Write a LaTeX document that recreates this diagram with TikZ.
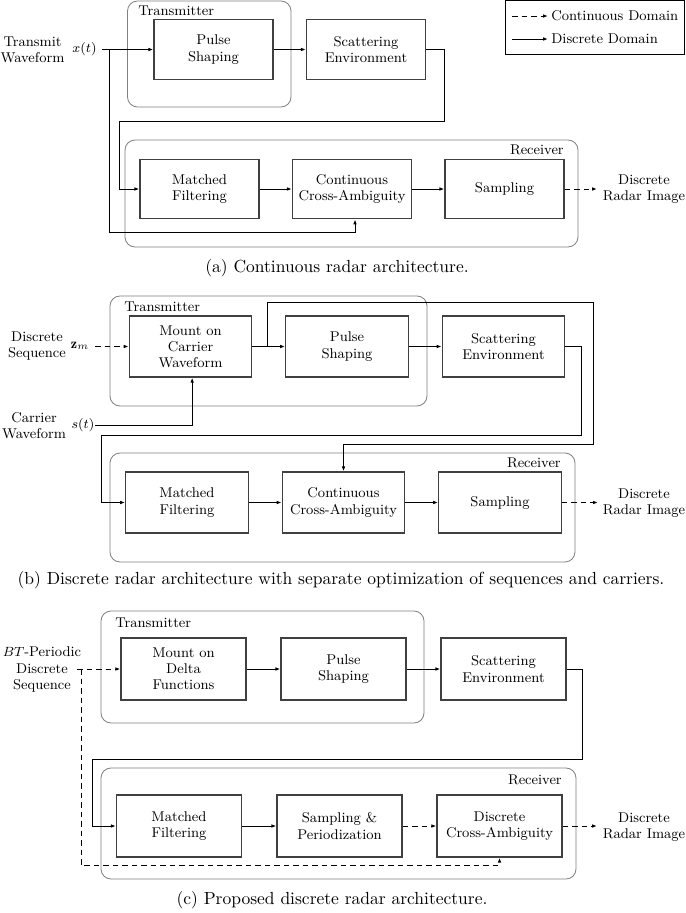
\documentclass[tikz,border=0pt]{standalone}
\usepackage{fontspec}
\usetikzlibrary{arrows.meta,fit}
\begin{document}
\begin{tikzpicture}[x=0.6pt,y=-0.6pt,
  every node/.style={font=\fontsize{8.5}{9.7}\selectfont, inner sep=0pt},
  blka/.style={draw=black!75, line width=0.75pt, align=center, minimum width=71.4pt, minimum height=35.7pt},
  blkb/.style={draw=black!75, line width=0.75pt, align=center, minimum width=73.5pt, minimum height=36.6pt},
  blkc/.style={draw=black!75, line width=0.75pt, align=center, minimum width=75pt, minimum height=37.2pt},
  cont/.style={draw=black!50, line width=0.5pt, rounded corners=6pt, inner sep=0pt},
  arr/.style={line width=0.6pt, -{Latex[length=3pt,width=2.2pt]}},
  darr/.style={arr, dash pattern=on 3.3pt off 2.4pt},
  captext/.style={font=\fontsize{10.5}{12}\selectfont}]
\useasboundingbox (0,0) rectangle (685,913);

% ---------------- Panel (a) ----------------
\node[cont, fit={(127.5,1) (291,107)}] (txa) {};
\node[anchor=west] (txla) at (138,11) {Transmitter};
\node[blka] (psa) at (213.5,49.5) {Pulse\\Shaping};
\node[blka] (sea) at (366,49.5) {Scattering\\Environment};
\node[cont, fit={(125,140) (578,247)}] (rxa) {};
\node[anchor=east] (rxla) at (564,150) {Receiver};
\node[blka] (mfa) at (199.5,189) {Matched\\Filtering};
\node[blka] (cca) at (352,189) {Continuous\\Cross-Ambiguity};
\node[blka] (saa) at (504.5,189) {Sampling};
\node[align=center] (twa) at (32.5,50) {Transmit\\Waveform};
\node (xta) at (84.5,49) {$x(t)$};
\coordinate (ina) at (102,49.5);
\coordinate (bra) at (109,49.5);
\draw[arr] (ina) -- (psa.west);
\draw[arr] (bra) -- (109,232) -| ([xshift=1.8pt]cca.south);
\draw[arr] (psa) -- (sea);
\draw[arr] (sea.east) -- (444,49.5) -- (444,121) -- (119,121) |- (mfa.west);
\draw[arr] (mfa) -- (cca);
\draw[arr] (cca) -- (saa);
\coordinate (outa) at (597,189);
\draw[darr] (saa) -- (outa);
\node[align=center] (dria) at (644,189) {Discrete\\Radar Image};

% legend
\node[draw, line width=0.6pt, fit={(505,0.5) (684,54)}] (leg) {};
\coordinate (l1s) at (512,16);
\coordinate (l1e) at (548,16);
\coordinate (l2s) at (512,39);
\coordinate (l2e) at (548,39);
\draw[darr] (l1s) -- (l1e);
\draw[arr] (l2s) -- (l2e);
\node[anchor=west] (l1t) at (551,16) {Continuous Domain};
\node[anchor=west] (l2t) at (551,39) {Discrete Domain};

\node[captext] (capa) at (337,268) {(a) Continuous radar architecture.};

% ---------------- Panel (b) ----------------
\node[cont, fit={(110,296) (427,406)}] (txb) {};
\node[anchor=west] (txlb) at (124,307) {Transmitter};
\node[blkb] (mcb) at (190.5,346.5) {Mount on\\Carrier\\Waveform};
\node[blkb] (psb) at (347,346.5) {Pulse\\Shaping};
\node[blkb] (seb) at (503.5,346.5) {Scattering\\Environment};
\node[cont, fit={(110,453) (575,562)}] (rxb) {};
\node[anchor=east] (rxlb) at (561,463) {Receiver};
\node[blkb] (mfb) at (187,502.5) {Matched\\Filtering};
\node[blkb] (ccb) at (343.5,502.5) {Continuous\\Cross-Ambiguity};
\node[blkb] (sab) at (500,502.5) {Sampling};
\node[align=center] (dsb) at (37,346) {Discrete\\Sequence};
\node (zmb) at (80,346) {$\mathbf{z}_m$};
\node[align=center] (cwb) at (34,426) {Carrier\\Waveform};
\node (stb) at (83,425) {$s(t)$};
\coordinate (inb) at (95,346.5);
\coordinate (cinb) at (95,425);
\coordinate (brb) at (267,346.5);
\draw[darr] (inb) -- (mcb.west);
\draw[arr] (cinb) -| ([xshift=1pt]mcb.south);
\draw[arr] (mcb) -- (psb);
\draw[arr] (brb) -- (267,302) -- (593,302) -- (593,444) -| (ccb.north);
\draw[arr] (psb) -- (seb);
\draw[arr] (seb.east) -- (581,346.5) -- (581,435) -- (101,435) |- (mfb.west);
\draw[arr] (mfb) -- (ccb);
\draw[arr] (ccb) -- (sab);
\coordinate (outb) at (598,502.5);
\draw[darr] (sab) -- (outb);
\node[align=center] (drib) at (644,503) {Discrete\\Radar Image};

\node[captext] (capb) at (341,580) {(b) Discrete radar architecture with separate optimization of sequences and carriers.};

% ---------------- Panel (c) ----------------
\node[cont, fit={(101,611) (424,723)}] (txc) {};
\node[anchor=west] (txlc) at (115,623) {Transmitter};
\node[blkc] (mdc) at (183.5,669) {Mount on\\Delta\\Functions};
\node[blkc] (psc) at (343.5,669) {Pulse\\Shaping};
\node[blkc] (sec) at (503.5,669) {Scattering\\Environment};
\node[cont, fit={(101,768) (576,879)}] (rxc) {};
\node[anchor=east] (rxlc) at (562,780) {Receiver};
\node[blkc] (mfc) at (179,826) {Matched\\Filtering};
\node[blkc] (spc) at (339.5,826) {Sampling \&\\Periodization};
\node[blkc] (dcc) at (499.5,826) {Discrete\\Cross-Ambiguity};
\node[align=center] (btc) at (42,669.5) {$BT$-Periodic\\Discrete\\Sequence};
\coordinate (inc) at (77,669);
\coordinate (brc) at (81,669);
\draw[darr] (inc) -- (mdc.west);
\draw[darr] (brc) -- (81,865) -| (dcc.south);
\draw[arr] (mdc) -- (psc);
\draw[arr] (psc) -- (sec);
\draw[arr] (sec.east) -- (582,669) -- (582,759) -- (92,759) |- (mfc.west);
\draw[arr] (mfc) -- (spc);
\draw[darr] (spc) -- (dcc);
\coordinate (outc) at (597,826);
\draw[darr] (dcc) -- (outc);
\node[align=center] (dric) at (644,827) {Discrete\\Radar Image};

\node[captext] (capc) at (332,900) {(c) Proposed discrete radar architecture.};
\end{tikzpicture}
\end{document}
